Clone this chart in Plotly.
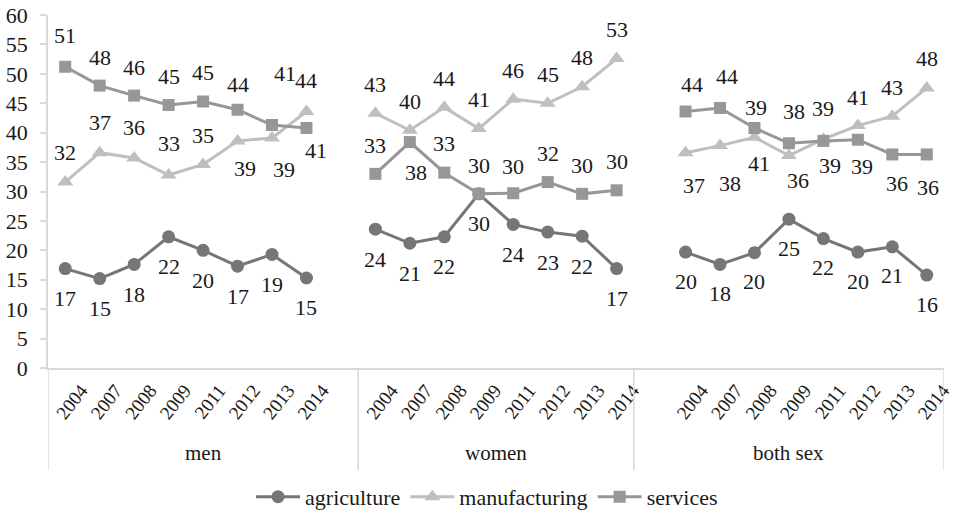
import plotly.graph_objects as go

# ---- data -------------------------------------------------------------
groups = ["men", "women", "both sex"]
years = ["2004", "2007", "2008", "2009", "2011", "2012", "2013", "2014"]

men_agriculture = [16.9, 15.2, 17.6, 22.3, 20.0, 17.3, 19.3, 15.3]
men_manufacturing = [31.6, 36.6, 35.7, 32.8, 34.6, 38.6, 39.1, 43.6]
men_services = [51.2, 48.0, 46.3, 44.7, 45.3, 43.9, 41.3, 40.8]

women_agriculture = [23.6, 21.2, 22.3, 29.6, 24.4, 23.1, 22.4, 16.9]
women_manufacturing = [43.3, 40.4, 44.3, 40.7, 45.7, 45.0, 47.8, 52.6]
women_services = [33.0, 38.4, 33.2, 29.6, 29.7, 31.6, 29.6, 30.2]

both_agriculture = [19.7, 17.6, 19.6, 25.3, 22.0, 19.7, 20.6, 15.8]
both_manufacturing = [36.6, 37.8, 39.2, 36.1, 38.9, 41.2, 42.8, 47.6]
both_services = [43.6, 44.2, 40.8, 38.2, 38.6, 38.8, 36.3, 36.3]

y_ticks = list(range(0, 61, 5))

# ---- layout of category slots (empty slots before/after each group) ----
group_padding = {"men": (0, 1), "women": (0, 0), "both sex": (1, 0)}

slot_x = {}        # group -> x positions of its years
group_bounds = {}  # group -> (left edge, right edge)
pos = 0
for g in groups:
    lead, trail = group_padding[g]
    start = pos
    pos += lead
    slot_x[g] = [pos + i for i in range(len(years))]
    pos += len(years) + trail
    group_bounds[g] = (start - 0.5, pos - 0.5)
n_slots = pos

series_data = {
    "agriculture": {"men": men_agriculture, "women": women_agriculture, "both sex": both_agriculture},
    "manufacturing": {"men": men_manufacturing, "women": women_manufacturing, "both sex": both_manufacturing},
    "services": {"men": men_services, "women": women_services, "both sex": both_services},
}

styles = {
    "agriculture": dict(color="#767676", symbol="circle", size=13),
    "manufacturing": dict(color="#bfbfbf", symbol="triangle-up", size=14),
    "services": dict(color="#979797", symbol="square", size=12),
}

# label offsets in pixels (dx right, dy down) per series / group / year
label_offsets = {
    "agriculture": {
        "men": [(0, 30)] * 8,
        "women": [(0, 30)] * 8,
        "both sex": [(0, 29)] * 8,
    },
    "manufacturing": {
        "men": [(0, -30), (0, -30), (0, -30), (0, -32), (0, -29), (7, 28), (12, 32), (0, -31)],
        "women": [(0, -29)] * 8,
        "both sex": [(8, 33), (10, 38), (2, -30), (9, 25), (0, -31), (0, -28), (0, -29), (0, -29)],
    },
    "services": {
        "men": [(0, -31), (0, -28), (0, -28), (0, -29), (0, -29), (0, -25), (13, -52), (10, 23)],
        "women": [(0, -28), (6, 30), (0, -29), (0, -28), (0, -27), (0, -29), (0, -28), (0, -29)],
        "both sex": [(6, -27), (7, -31), (5, 36), (5, -32), (7, 25), (4, 27), (5, 29), (1, 33)],
    },
}

FONT = "serif"
TEXT = "#1a1a1a"
GRID = "#d9d9d9"

fig = go.Figure()
annotations = []

for name, per_group in series_data.items():
    st = styles[name]
    xs, ys = [], []
    for g in groups:
        xs += slot_x[g] + [None]
        ys += per_group[g] + [None]
        for i, v in enumerate(per_group[g]):
            dx, dy = label_offsets[name][g][i]
            annotations.append(dict(
                x=slot_x[g][i], y=v, xref="x", yref="y",
                text=f"{v:.0f}", showarrow=False,
                xshift=dx, yshift=-dy,
                font=dict(family=FONT, size=22, color=TEXT),
            ))
    fig.add_trace(go.Scatter(
        x=xs, y=ys, name=name, mode="lines+markers",
        connectgaps=False,
        line=dict(color=st["color"], width=3),
        marker=dict(color=st["color"], symbol=st["symbol"], size=st["size"]),
        hoverinfo="skip",
    ))

# group labels and dividers under the category axis
for g in groups:
    left, right = group_bounds[g]
    annotations.append(dict(
        x=(left + right) / 2, y=-0.241, xref="x", yref="paper",
        text=g, showarrow=False, yanchor="middle",
        font=dict(family=FONT, size=21, color=TEXT),
    ))
edges = sorted({b for g in groups for b in group_bounds[g]})
shapes = [
    dict(type="line", xref="x", yref="paper", x0=e, x1=e, y0=0, y1=-0.29,
         line=dict(color=GRID, width=1.5))
    for e in edges
]

tickvals = [x for g in groups for x in slot_x[g]]
ticktext = [y for g in groups for y in years]

fig.update_layout(
    width=954, height=518,
    margin=dict(l=48, r=0, t=15, b=150),
    paper_bgcolor="white", plot_bgcolor="white",
    font=dict(family=FONT, size=20, color=TEXT),
    showlegend=True,
    legend=dict(
        orientation="h", x=0.49, xanchor="center", y=-0.365, yanchor="middle",
        font=dict(family=FONT, size=22, color=TEXT),
        itemwidth=44,
    ),
    xaxis=dict(
        range=[-0.5, n_slots - 0.5],
        tickmode="array", tickvals=tickvals, ticktext=ticktext,
        tickangle=-52, ticklabelshift=16, ticklabelstandoff=2,
        ticklabeloverflow="allow",
        tickfont=dict(family=FONT, size=19, color=TEXT),
        showgrid=False, zeroline=False,
        showline=True, linecolor=GRID, linewidth=1.5,
        ticks="",
    ),
    yaxis=dict(
        range=[0, 60], tickmode="array", tickvals=y_ticks,
        tickfont=dict(family=FONT, size=22, color=TEXT),
        showgrid=False, zeroline=False,
        showline=True, linecolor=GRID, linewidth=1.5,
        ticks="outside", ticklen=6, tickcolor=GRID, tickwidth=1.5,
        ticklabelstandoff=8,
    ),
    annotations=annotations,
    shapes=shapes,
)

fig.write_html("out.html")
